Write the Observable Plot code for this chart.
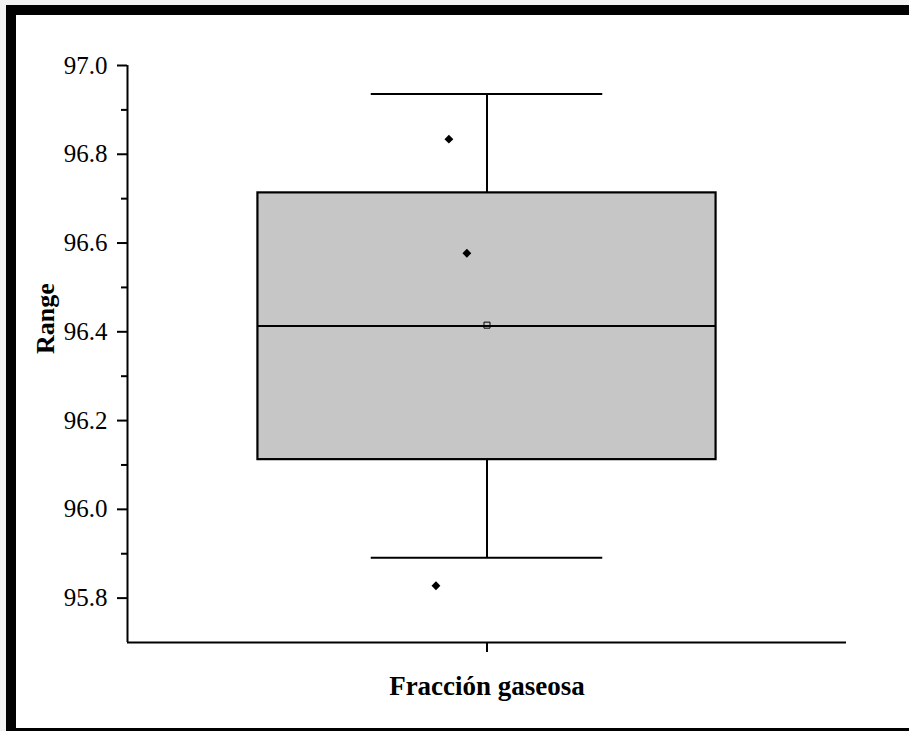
<!DOCTYPE html>
<html>
<head>
<meta charset="utf-8">
<script src="https://cdn.jsdelivr.net/npm/d3@7"></script>
<script src="https://cdn.jsdelivr.net/npm/@observablehq/plot@0.6"></script>
<style>
  html, body { margin: 0; padding: 0; background: #f1f1f1; }
  #wrap { position: relative; width: 909px; height: 731px; overflow: hidden; }
  #frame { position: absolute; left: 6px; top: 5px; width: 1000px; height: 713px;
           border: 10px solid #000; background: #fff; z-index: 0; }
  #chart { position: absolute; left: 0; top: 0; z-index: 1; }
  #chart svg text { font-family: 'Liberation Serif', 'Times New Roman', serif; font-variant-numeric: normal; }
</style>
</head>
<body>
<div id="wrap">
  <div id="frame"></div>
  <div id="chart"></div>
</div>
<script>
// ---- data ----
const categories = ["Fracción gaseosa"];
const categoryPos = [1];
const q1Values = [96.112];
const q3Values = [96.713];
const medianValues = [96.413];
const meanValues = [96.415];
const whiskerLow = [95.891];
const whiskerHigh = [96.936];
const outlierValues = [96.834, 96.577, 95.828];
const outlierJitter = [-0.053, -0.028, -0.071];
const yTicks = [95.8, 96.0, 96.2, 96.4, 96.6, 96.8, 97.0];
const yMinorTicks = [95.9, 96.1, 96.3, 96.5, 96.7, 96.9];
const yDomain = [95.7, 97.0];
const xDomain = [0.5, 1.5];

// ---- build tables ----
const boxes = categories.map((c, i) => ({
  cat: c, pos: categoryPos[i], q1: q1Values[i], q3: q3Values[i],
  med: medianValues[i], mean: meanValues[i], lo: whiskerLow[i], hi: whiskerHigh[i]
}));
const outliers = outlierValues.map((v, i) => ({ x: categoryPos[0] + outlierJitter[i], y: v }));

const BOX_HALF = 0.3186;
const CAP_HALF = 0.161;
const FONT = "'Liberation Serif', 'Times New Roman', serif";

const chart = Plot.plot({
  width: 909,
  height: 731,
  marginLeft: 127,
  marginRight: 63,
  marginTop: 65,
  marginBottom: 89,
  style: { fontFamily: FONT, color: "#000", background: "transparent" },
  x: { type: "linear", domain: xDomain, axis: null },
  y: { domain: yDomain, axis: null },
  marks: [
    // box
    Plot.rect(boxes, { x1: d => d.pos - BOX_HALF, x2: d => d.pos + BOX_HALF, y1: "q1", y2: "q3",
      fill: "#c6c6c6", stroke: "#000", strokeWidth: 2.2 }),
    // whiskers
    Plot.ruleX(boxes, { x: "pos", y1: "q3", y2: "hi", stroke: "#000", strokeWidth: 2 }),
    Plot.ruleX(boxes, { x: "pos", y1: "lo", y2: "q1", stroke: "#000", strokeWidth: 2 }),
    Plot.ruleY(boxes, { y: "hi", x1: d => d.pos - CAP_HALF, x2: d => d.pos + CAP_HALF, stroke: "#000", strokeWidth: 2 }),
    Plot.ruleY(boxes, { y: "lo", x1: d => d.pos - CAP_HALF, x2: d => d.pos + CAP_HALF, stroke: "#000", strokeWidth: 2 }),
    // median
    Plot.ruleY(boxes, { y: "med", x1: d => d.pos - BOX_HALF, x2: d => d.pos + BOX_HALF, stroke: "#000", strokeWidth: 2 }),
    // mean
    Plot.dot(boxes, { x: "pos", y: "mean", symbol: "square", r: 3.4, stroke: "#000", fill: "none", strokeWidth: 1 }),
    // outliers
    Plot.dot(outliers, { x: "x", y: "y", symbol: "diamond2", r: 4, fill: "#000", stroke: "none" }),
    // axes
    Plot.axisY({ ticks: yTicks, tickFormat: d3.format(".1f"), tickSize: 10, tickPadding: 10,
      strokeWidth: 2, fontSize: 25, fontFamily: FONT, label: null }),
    Plot.axisY({ ticks: yMinorTicks, tickFormat: () => "", tickSize: 6, strokeWidth: 2, label: null }),
    Plot.axisX({ ticks: categoryPos, tickFormat: (d, i) => categories[i], tickSize: 10, tickPadding: 23,
      strokeWidth: 2, fontSize: 27, fontWeight: "bold", fontFamily: FONT, label: null }),
    Plot.ruleX([xDomain[0]], { stroke: "#000", strokeWidth: 2 }),
    Plot.ruleY([yDomain[0]], { stroke: "#000", strokeWidth: 2 }),
    Plot.text(["Range"], { frameAnchor: "left", dx: -82, rotate: -90, text: d => d,
      fontSize: 26, fontWeight: "bold", fontFamily: FONT, fill: "#000" })
  ]
});
document.getElementById("chart").appendChild(chart);
</script>
</body>
</html>
